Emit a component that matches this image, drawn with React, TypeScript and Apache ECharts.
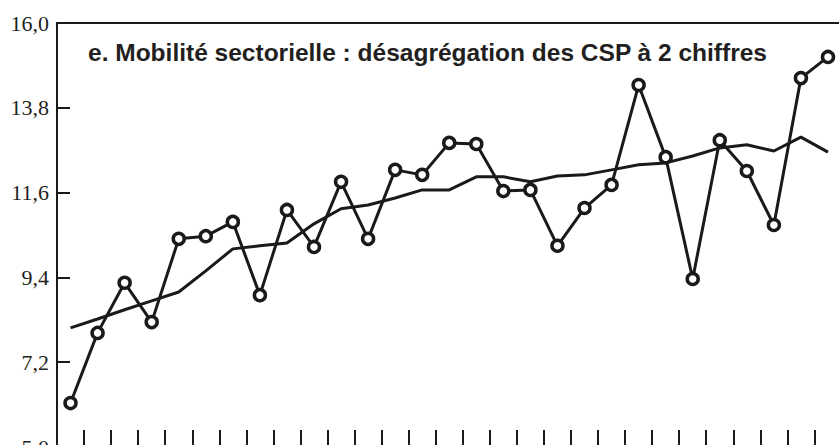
import React, { useEffect, useRef } from "react";
import * as echarts from "echarts";

const categories = [
  "1", "2", "3", "4", "5", "6", "7", "8", "9", "10",
  "11", "12", "13", "14", "15", "16", "17", "18", "19", "20",
  "21", "22", "23", "24", "25", "26", "27", "28", "29",
];

const mobilite = [
  6.14, 7.96, 9.26, 8.24, 10.4, 10.47, 10.84, 8.94, 11.15, 10.19,
  11.88, 10.4, 12.19, 12.06, 12.89, 12.86, 11.64, 11.67, 10.22, 11.2,
  11.8, 14.39, 12.52, 9.36, 12.96, 12.16, 10.76, 14.57, 15.12,
];

const tendance = [
  8.09, 8.32, 8.56, 8.79, 9.02, 9.57, 10.14, 10.22, 10.29, 10.79,
  11.18, 11.28, 11.46, 11.67, 11.67, 12.01, 12.01, 11.88, 12.03, 12.06,
  12.19, 12.32, 12.37, 12.55, 12.76, 12.84, 12.68, 13.04, 12.65,
];

const yTicks = [5.0, 7.2, 9.4, 11.6, 13.8, 16.0];

const titleText = "e. Mobilité sectorielle : désagrégation des CSP à 2 chiffres";

export default function App() {
  const ref = useRef<HTMLDivElement>(null);

  useEffect(() => {
    if (!ref.current) return;
    const chart = echarts.init(ref.current, undefined, { renderer: "svg" });
    const ink = "#1a1a1a";
    chart.setOption({
      animation: false,
      backgroundColor: "#ffffff",
      title: {
        text: titleText,
        left: 88,
        top: 40,
        padding: 0,
        textStyle: {
          fontFamily: "'Liberation Sans', Arial, Helvetica, sans-serif",
          fontWeight: "bold",
          fontSize: 24.5,
          color: "#231f20",
        },
      },
      grid: {
        left: 57,
        right: -2.5,
        top: 23,
        bottom: -2,
        containLabel: false,
        outerBoundsMode: "none",
      },
      xAxis: [
        {
          type: "category",
          data: categories,
          boundaryGap: true,
          axisLine: { show: true, lineStyle: { color: ink, width: 2 } },
          axisTick: { show: true, inside: true, length: 17, lineStyle: { color: ink, width: 2 } },
          axisLabel: { show: false },
          splitLine: { show: false },
        },
        {
          type: "category",
          data: categories,
          position: "top",
          boundaryGap: true,
          axisLine: { show: true, lineStyle: { color: ink, width: 2 } },
          axisTick: { show: false },
          axisLabel: { show: false },
          splitLine: { show: false },
        },
      ],
      yAxis: {
        type: "value",
        min: 5,
        max: 16,
        axisLine: { show: true, lineStyle: { color: ink, width: 2 } },
        axisTick: {
          show: true,
          inside: true,
          length: 13,
          customValues: yTicks,
          lineStyle: { color: ink, width: 2 },
        },
        axisLabel: {
          show: true,
          customValues: yTicks,
          margin: 8,
          fontFamily: "'Liberation Serif', 'Times New Roman', serif",
          fontSize: 22,
          color: "#231f20",
          formatter: (v: number) => v.toFixed(1).replace(".", ","),
        },
        splitLine: { show: false },
      },
      series: [
        {
          name: "Tendance",
          type: "line",
          data: tendance,
          xAxisIndex: 0,
          symbol: "none",
          lineStyle: { color: ink, width: 3 },
          z: 2,
        },
        {
          name: "Mobilité sectorielle",
          type: "line",
          data: mobilite,
          xAxisIndex: 0,
          symbol: "circle",
          symbolSize: 11,
          showSymbol: true,
          itemStyle: { color: "#ffffff", borderColor: ink, borderWidth: 3.5 },
          lineStyle: { color: ink, width: 3 },
          z: 3,
        },
      ],
    });
    return () => chart.dispose();
  }, []);

  return (
    <div
      ref={ref}
      style={{ position: "fixed", left: 0, top: 0, width: 839, height: 445 }}
    />
  );
}
